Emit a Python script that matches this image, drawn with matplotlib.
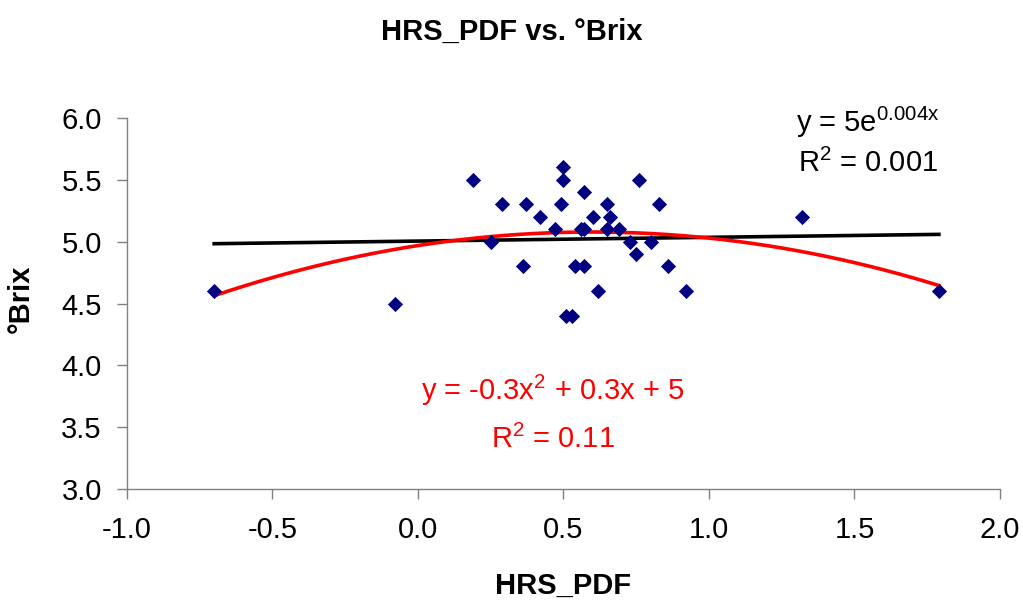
import numpy as np
import matplotlib
matplotlib.use('Agg')
import matplotlib.pyplot as plt

plt.rcParams['font.family'] = ['Liberation Sans', 'DejaVu Sans']
plt.rcParams['mathtext.fontset'] = 'custom'
plt.rcParams['mathtext.rm'] = 'Liberation Sans'
plt.rcParams['mathtext.it'] = 'Liberation Sans'

# valores
hrs_pdf = [-0.70, -0.08, 0.19, 0.25, 0.29, 0.36, 0.37, 0.42, 0.47, 0.49,
           0.50, 0.50, 0.51, 0.53, 0.54, 0.56, 0.57, 0.57, 0.57, 0.60,
           0.62, 0.65, 0.65, 0.66, 0.69, 0.73, 0.75, 0.76, 0.80, 0.83,
           0.86, 0.92, 1.32, 1.79]
brix = [4.6, 4.5, 5.5, 5.0, 5.3, 4.8, 5.3, 5.2, 5.1, 5.3,
        5.6, 5.5, 4.4, 4.4, 4.8, 5.1, 5.4, 4.8, 5.1, 5.2,
        4.6, 5.3, 5.1, 5.2, 5.1, 5.0, 4.9, 5.5, 5.0, 5.3,
        4.8, 4.6, 5.2, 4.6]

x = np.array(hrs_pdf)
y = np.array(brix)

# ajustes (como en Excel)
coef_pol = np.polyfit(x, y, 2)
coef_exp = np.polyfit(x, np.log(y), 1)
xs = np.linspace(x.min(), x.max(), 200)
y_pol = np.polyval(coef_pol, xs)
y_exp = np.exp(coef_exp[1]) * np.exp(coef_exp[0] * xs)

fig = plt.figure(figsize=(10.23, 6.01), dpi=100)
ax = fig.add_axes([0.124, 0.186, 0.8535, 0.618])

ax.plot(xs, y_exp, color='black', lw=2.6, zorder=2)
ax.plot(xs, y_pol, color='#ff0000', lw=2.6, zorder=3)
ax.scatter(x, y, marker='D', s=60, color='#000080', zorder=4, linewidths=0)

ax.set_xlim(-1.0, 2.0)
ax.set_ylim(3.0, 6.0)
ax.set_xticks(np.arange(-1.0, 2.01, 0.5))
ax.set_yticks(np.arange(3.0, 6.01, 0.5))
ax.xaxis.set_major_formatter(matplotlib.ticker.FormatStrFormatter('%.1f'))
ax.yaxis.set_major_formatter(matplotlib.ticker.FormatStrFormatter('%.1f'))
ax.tick_params(labelsize=21, length=7, width=1, color='#808080')
ax.tick_params(axis='x', pad=12)
ax.tick_params(axis='y', pad=11)

for s in ['top', 'right']:
    ax.spines[s].set_visible(False)
for s in ['left', 'bottom']:
    ax.spines[s].set_color('#808080')
    ax.spines[s].set_linewidth(1)

# titulos
fig.text(0.5, 1 - 32 / 601, 'HRS_PDF vs. °Brix', ha='center', va='center',
         fontsize=21, fontweight='bold')
fig.text(563 / 1023, 1 - 586 / 601, 'HRS_PDF', ha='center', va='center',
         fontsize=21, fontweight='bold')
fig.text(21 / 1023, 1 - 299 / 601, '°Brix', ha='center', va='center',
         fontsize=21, fontweight='bold', rotation=90)

# ecuaciones
ax.text(1.546, 5.96, r'y = 5e$^{\mathrm{0.004x}}$', fontsize=21, ha='center',
        va='center', color='black')
ax.text(1.546, 5.63, r'R$^{\mathrm{2}}$ = 0.001', fontsize=21, ha='center',
        va='center', color='black')
ax.text(0.464, 3.80, r'y = -0.3x$^{\mathrm{2}}$ + 0.3x + 5', fontsize=21,
        ha='center', va='center', color='#ff0000')
ax.text(0.464, 3.40, r'R$^{\mathrm{2}}$ = 0.11', fontsize=21, ha='center',
        va='center', color='#ff0000')

fig.savefig('out.png', dpi=100)
